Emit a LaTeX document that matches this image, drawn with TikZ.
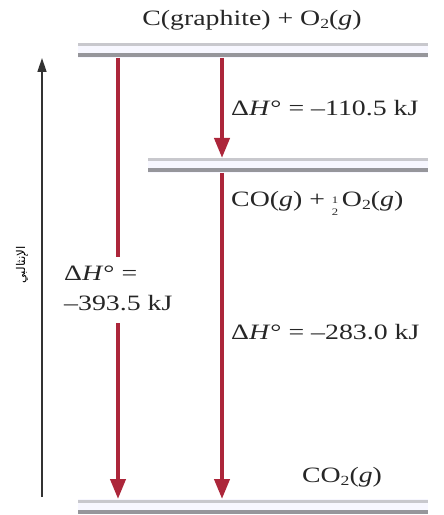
\documentclass[tikz,border=0pt]{standalone}
\usepackage{fontspec}
\setmainfont{Liberation Serif}[FakeStretch=1.27]
\newfontfamily\arabicfont[Script=Arabic]{DejaVu Sans}
\TeXXeTstate=1
\usetikzlibrary{arrows.meta}
\definecolor{arrred}{RGB}{172,38,58}
\definecolor{barlight}{RGB}{200,200,205}
\definecolor{bardark}{RGB}{150,150,155}
\newcommand{\halfrac}{\raisebox{-0.9ex}{\vbox{\fontsize{10}{10}\selectfont\hbox{1}\kern1.5pt\hbox{2}}}}
\newcommand{\sbt}[1]{\raisebox{-0.35ex}{\fontsize{14}{14}\selectfont #1}}
\tikzset{
  lbl/.style={font=\fontsize{22}{30}\selectfont, inner sep=0pt, text=black!85},
  redarrow/.style={draw=arrred, line width=4bp, -{Triangle[length=20bp,width=15bp]}},
  redline/.style={draw=arrred, line width=4bp},
  axisarrow/.style={draw=black!80, line width=1.5bp, -{Triangle[length=14bp,width=9bp]}},
}
\newcommand{\energybar}[3]{%
  \fill[blue!3] (#1,#3) rectangle (#2,#3+15);
  \draw[barlight, line width=3bp] (#1,#3+2) -- (#2,#3+2);
  \draw[bardark, line width=4bp] (#1,#3+12.5) -- (#2,#3+12.5);
}
\begin{document}
\begin{tikzpicture}[x=1bp,y=-1bp]
\useasboundingbox (0,0) rectangle (444,515);
% energy levels
\energybar{78}{428}{43}
\energybar{148}{428}{158}
\energybar{78}{428}{499}
% level coordinates
\coordinate (topL) at (118,58);
\coordinate (topR) at (222,58);
\coordinate (midTop) at (222,158);
\coordinate (midBot) at (222,173);
\coordinate (botL) at (118,499);
\coordinate (botR) at (222,499);
\coordinate (gapA) at (118,257);
\coordinate (gapB) at (118,323);
\coordinate (axB) at (42,497);
\coordinate (axT) at (42,58);
% arrows
\draw[redarrow] (topR) -- (midTop);
\draw[redarrow] (midBot) -- (botR);
\draw[redline] (topL) -- (gapA);
\draw[redarrow] (gapB) -- (botL);
\draw[axisarrow] (axB) -- (axT);
% labels
\node[lbl] (top) at (252,20) {C(graphite) + O\sbt{2}(\textit{g})};
\node[lbl, anchor=west] (dh1) at (231,108) {Δ\textit{H}° = –110.5 kJ};
\node[lbl, anchor=west] (co) at (231,203) {CO(\textit{g}) + \halfrac\,O\sbt{2}(\textit{g})};
\node[lbl, anchor=west] (dh2) at (231,332) {Δ\textit{H}° = –283.0 kJ};
\node[lbl, anchor=west, align=left] (dh3) at (64,288) {Δ\textit{H}° =\\–393.5 kJ};
\node[lbl] (co2) at (342,477) {CO\sbt{2}(\textit{g})};
\node[rotate=90, font=\arabicfont\fontsize{12}{14}\selectfont, inner sep=0pt] (enth) at (22,265) {\beginR الإنثالبي\endR};
\end{tikzpicture}
\end{document}
